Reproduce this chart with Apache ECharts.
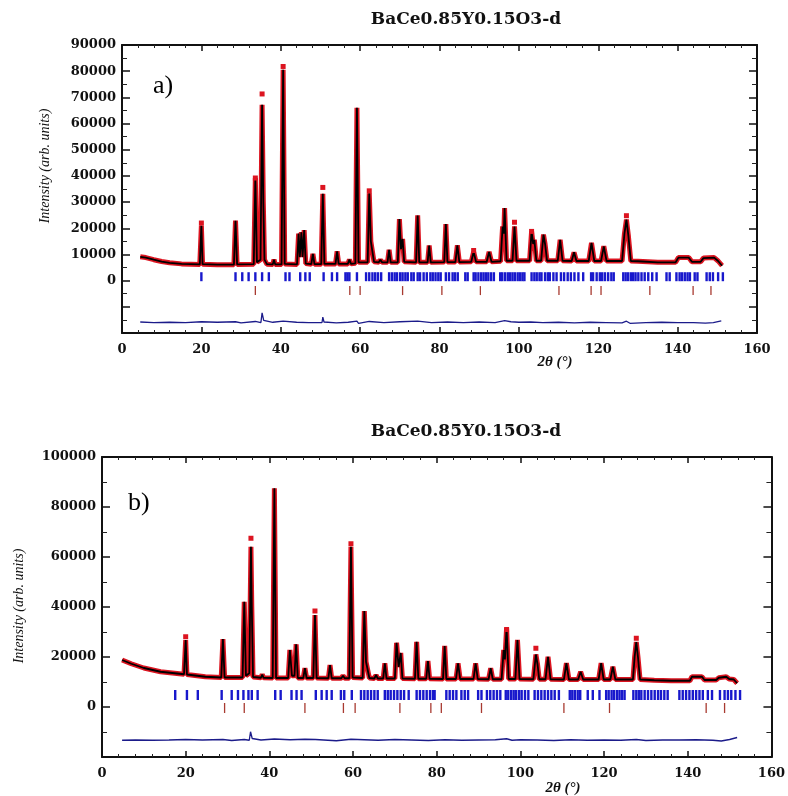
<!DOCTYPE html>
<html><head><meta charset="utf-8">
<script src="https://cdn.jsdelivr.net/npm/echarts@6/dist/echarts.min.js"></script>
<style>html,body{margin:0;padding:0;background:#fff}#c{width:788px;height:796px}</style>
</head><body><div id="c"></div>
<script>
// ---------- Panel a data ----------
const profileA = [[4.6,9100],[6,8800],[8,8000],[10,7300],[12,6800],[15,6400],[19.6,6200],
[19.7,6300],[20.0,21000],[20.3,6300],[24,6100],[28.2,6100],[28.6,22900],[29.0,6200],
[33.2,6300],[33.6,39200],[34.0,7000],[34.9,8000],[35.3,67200],[35.6,30000],[35.9,8000],[36.5,6300],
[38.0,6200],[38.3,8000],[38.6,6200],[40.2,6200],[40.6,80500],[41.0,6400],
[44.1,6200],[44.5,18000],[44.8,9000],[45.2,18500],[45.5,9000],[45.9,19300],[46.3,6500],
[47.7,6300],[48.1,10200],[48.5,6300],[50.2,6300],[50.6,33200],[51.0,6400],
[53.8,6400],[54.2,11200],[54.6,6400],[56.9,6400],[57.3,8000],[57.7,6400],
[58.8,6600],[59.2,66000],[59.6,7000],[61.9,7000],[62.3,33400],[62.7,15000],[63.1,15000],[63.5,7200],
[64.7,7000],[65.1,8000],[65.5,7000],[66.9,7000],[67.3,11800],[67.7,7000],
[69.5,7000],[69.9,23500],[70.3,12000],[70.7,15900],[71.1,7200],[74.1,7000],[74.5,24900],[74.9,7000],
[77.0,7000],[77.4,13400],[77.8,7000],[81.2,7100],[81.6,21600],[82.0,7100],
[84.0,7100],[84.5,13500],[85.0,7100],[88.0,7200],[88.6,11000],[89.2,7200],
[91.9,7200],[92.5,11000],[93.1,7200],[95.4,7400],[95.9,20700],[96.2,18000],[96.4,27700],[96.9,7600],
[98.4,7600],[98.9,20700],[99.4,7600],[102.7,7600],[103.2,18800],[103.6,14000],[103.9,15600],[104.4,7600],
[105.6,7600],[106.2,17600],[106.6,14000],[107.1,7600],[109.8,7600],[110.4,15600],[111.0,7600],
[113.3,7500],[113.9,10800],[114.5,7500],[117.6,7500],[118.3,14400],[119.0,7500],
[120.7,7500],[121.4,13100],[122.1,7500],[126.0,7500],[126.6,18000],[127.1,23300],[127.6,17000],[128.2,7500],
[130,7400],[135,7000],[139.5,7000],[140.2,8800],[142.8,8800],[143.6,7200],[145.8,7200],[146.5,8600],[149.2,8800],[150.2,7500],[151.2,5700]];
const obsPeaksA = [[20.0,22000],[33.6,39200],[35.3,71300],[40.6,81800],[50.6,35600],[62.3,34300],[88.6,11500],[98.9,22300],[103.2,18800],[127.1,24800]];
const diffA = [[4.6,-15800],[8,-16000],[12,-15900],[16,-16000],[20,-15700],[20.3,-16200],[24,-15900],[28.6,-15700],[30,-16100],[33.6,-15600],[35.0,-16000],[35.3,-12300],[35.7,-15200],[38,-15900],[40.6,-15500],[41,-16200],[44,-15900],[47,-16000],[50.4,-16000],[50.6,-13900],[50.9,-15800],[54,-16100],[57,-15900],[59.2,-15500],[59.6,-16300],[62.3,-15600],[66,-16000],[70,-15700],[74.5,-15500],[78,-16000],[82,-15800],[86,-16000],[90,-15800],[94,-16000],[96.4,-15300],[98,-15700],[100,-15900],[103,-15800],[106,-16000],[110,-15900],[114,-16100],[118,-15900],[122,-16000],[126,-16100],[127.1,-15500],[128,-16300],[132,-16000],[136,-15900],[140,-16000],[144,-16000],[147,-16200],[149,-16000],[151,-15400]];
const braggA1 = [20.0,28.6,30.3,31.9,33.6,35.3,37.0,41.2,42.2,44.9,46.2,47.3,50.8,52.9,54.2,56.3,56.8,57.3,59.2,61.5,62.3,63.1,63.8,64.5,65.3,67.3,68.0,68.7,69.3,70.1,70.7,71.4,72.0,72.9,73.5,74.5,75.1,76.0,76.8,77.7,78.3,79.0,79.7,80.3,81.6,82.4,83.3,83.9,84.6,86.5,87.1,88.6,89.1,89.8,90.5,91.1,91.7,92.3,93.0,93.7,95.3,95.8,96.5,97.2,97.8,98.4,99.0,99.7,100.3,100.9,101.4,103.2,103.9,104.5,105.2,105.7,106.6,107.3,107.8,108.7,109.5,110.6,111.4,112.3,113.1,114.0,115.0,116.2,118.2,118.7,119.6,120.4,121.0,121.7,122.5,123.3,123.9,126.3,126.9,127.5,128.2,128.8,129.4,130.1,130.9,131.7,132.6,133.6,134.7,137.2,138.0,139.7,140.5,141.1,141.8,142.5,143.1,144.3,145.0,147.3,148.1,148.9,150.2,151.4];
const braggA2 = [33.6,57.4,60.0,70.7,80.6,90.3,110.1,118.2,120.7,133.0,143.9,148.4];

// ---------- Panel b data ----------
const profileB = [[4.8,18800],[7,17300],[10,15600],[14,14100],[19.6,13100],
[19.7,13100],[20.0,26800],[20.3,13000],[24.7,12100],[28.5,11800],[28.9,27200],[29.3,11800],[31,11800],
[33.6,11800],[34.0,42100],[34.4,12500],[35.2,13500],[35.6,64100],[35.8,40000],[36.1,12000],
[38.0,11700],[38.3,13000],[38.6,11700],[40.8,11600],[41.2,87500],[41.6,11600],
[44.5,11600],[44.9,22800],[45.4,12500],[46.0,12500],[46.4,25100],[46.8,11600],
[48.1,11600],[48.5,15500],[48.9,11600],[50.5,11600],[50.9,36800],[51.3,11600],
[54.1,11500],[54.5,16800],[54.9,11500],[57.2,11500],[57.6,12500],[58.0,11500],
[59.1,11500],[59.5,64100],[59.9,11800],[62.3,11600],[62.7,38400],[63.1,18100],[63.5,18100],[63.9,11600],
[65.1,11400],[65.5,12800],[65.9,11400],[67.2,11400],[67.6,17500],[68.0,11400],
[70.0,11400],[70.4,25700],[70.9,16000],[71.4,21600],[71.8,11400],[74.8,11300],[75.2,26100],[75.6,11300],
[77.5,11300],[77.9,18400],[78.3,11300],[81.5,11200],[81.9,24400],[82.3,11200],
[84.6,11200],[85.1,17500],[85.6,11200],[88.8,11200],[89.3,17500],[89.8,11200],
[92.4,11100],[92.9,15500],[93.4,11100],[95.5,11100],[96.0,22800],[96.3,19000],[96.7,31500],[97.2,11200],
[98.8,11200],[99.3,26800],[99.8,11200],[103.1,11100],[103.7,21000],[104.1,17000],[104.5,11100],
[106.0,11100],[106.6,20100],[107.2,11100],[110.4,11000],[111.0,17500],[111.6,11000],
[113.8,11000],[114.4,14100],[115.0,11000],[118.7,11000],[119.3,17500],[119.9,11000],
[121.5,11000],[122.1,16100],[122.7,11000],[126.9,11000],[127.3,20000],[127.7,26000],[128.1,20000],[128.6,11000],
[132,10700],[136,10500],[140.5,10500],[141.0,12100],[143.4,12100],[144.0,10800],[146.8,10800],[147.4,11700],[149.2,12100],[149.9,11200],[151.0,11000],[151.8,9500]];
const obsPeaksB = [[20.0,28100],[35.6,67500],[50.9,38400],[59.5,65300],[96.7,31000],[103.7,23500],[127.7,27500]];
const diffB = [[4.8,-13300],[8,-13200],[12,-13300],[16,-13200],[20,-13000],[20.4,-13500],[24,-13200],[28.9,-13000],[31,-13400],[34,-13000],[35.2,-13300],[35.5,-9900],[35.9,-12600],[38,-13200],[41.2,-12800],[41.6,-13600],[45,-13100],[48.5,-12900],[51,-13000],[54,-13300],[56,-13500],[59.5,-12900],[62.7,-13100],[66,-13300],[70,-13000],[74,-13200],[78,-13400],[82,-13100],[86,-13300],[90,-13200],[94,-13100],[96.7,-12700],[98,-13300],[100,-13100],[104,-13200],[108,-13400],[112,-13100],[116,-13300],[120,-13200],[124,-13300],[127.7,-13000],[130,-13400],[134,-13200],[138,-13200],[142,-13100],[146,-13300],[148,-13600],[150,-13000],[151.8,-12200]];
const braggB1 = [17.5,20.3,22.9,28.6,31.0,32.5,33.8,35.0,35.8,37.2,41.4,42.7,45.3,46.5,47.7,51.1,52.5,53.7,54.9,57.1,57.9,59.7,61.9,62.7,63.5,64.3,65.1,65.9,67.6,68.3,69.0,69.8,70.6,71.4,72.2,73.3,75.2,76.0,76.8,77.6,78.4,79.1,79.5,82.3,83.1,83.9,84.7,85.9,86.7,87.5,89.9,90.7,92.0,92.8,93.6,94.4,95.2,96.5,97.1,97.8,98.4,99.0,99.7,100.3,101.1,101.9,103.4,104.2,105.0,105.8,106.6,107.4,108.2,109.2,111.8,112.4,113.0,113.7,114.3,116.1,117.3,118.9,120.5,121.1,121.8,122.4,123.1,123.7,124.3,124.9,127.0,127.7,128.3,128.9,129.7,130.5,131.3,132.1,132.9,133.6,134.4,135.2,138.0,138.8,139.6,140.4,141.2,142.0,142.8,143.6,144.8,145.8,147.7,148.8,149.6,150.4,151.4,152.5];
const braggB2 = [29.3,34.0,48.5,57.7,60.5,71.2,78.6,81.1,90.7,110.4,121.3,144.4,148.8];

const titleText = 'BaCe0.85Y0.15O3-d';
const yName = 'Intensity (arb. units)';
const xName = '2\u03B8 (\u00B0)';

// ---------- styling ----------
const SERIF_B = 'DejaVu Serif';
const RED = '#dc1420', BLUE = '#1818cc', BRICK = '#a83a30', DIFF = '#1b1b8a';
const ROW = { a1: 1500, a2: -3800, b1: 4800, b2: -400 };

function xAx(grid, pos, showLabel) {
  return {
    type: 'value', gridIndex: grid, position: pos, min: 0, max: 160, interval: 20,
    axisLine: { show: true, onZero: false, lineStyle: { color: '#111', width: 2 } },
    axisTick: { show: true, inside: true, length: 6, lineStyle: { color: '#111', width: 1.5 } },
    minorTick: { show: true, splitNumber: 5, length: 3, lineStyle: { color: '#222' } },
    splitLine: { show: false },
    axisLabel: { show: showLabel, margin: 10, color: '#111', fontFamily: SERIF_B, fontWeight: 'bold', fontSize: 13 }
  };
}
function yAx(grid, pos, max, interval, showLabel) {
  return {
    type: 'value', gridIndex: grid, position: pos, min: -20000, max: max, interval: interval,
    axisLine: { show: true, onZero: false, lineStyle: { color: '#111', width: 2 } },
    axisTick: { show: true, inside: true, length: 8, lineStyle: { color: '#111', width: 1.5 } },
    minorTick: { show: true, splitNumber: 2, length: 5, lineStyle: { color: '#222' } },
    splitLine: { show: false },
    axisLabel: { show: showLabel, margin: 6, color: '#111', fontFamily: SERIF_B, fontWeight: 'bold', fontSize: 13,
      formatter: v => (v < 0 ? '' : String(v)) }
  };
}
function panelSeries(xi, yi, profile, obsPeaks, diff, b1, b2, r1, r2, tickH) {
  return [
    { type: 'line', xAxisIndex: xi, yAxisIndex: yi, data: profile, showSymbol: false, lineStyle: { color: RED, width: 5 }, z: 2, animation: false },
    { type: 'line', xAxisIndex: xi, yAxisIndex: yi, data: profile, showSymbol: false, lineStyle: { color: '#000', width: 1.8 }, z: 3, animation: false },
    { type: 'scatter', xAxisIndex: xi, yAxisIndex: yi, data: obsPeaks, symbol: 'rect', symbolSize: 5, itemStyle: { color: RED, opacity: 1 }, z: 4, animation: false },
    { type: 'line', xAxisIndex: xi, yAxisIndex: yi, data: diff, showSymbol: false, lineStyle: { color: DIFF, width: 1.3 }, z: 3, animation: false },
    { type: 'scatter', xAxisIndex: xi, yAxisIndex: yi, data: b1.map(p => [p, r1]), symbol: 'rect', symbolSize: [2.4, tickH], itemStyle: { color: BLUE, opacity: 1 }, z: 3, animation: false },
    { type: 'scatter', xAxisIndex: xi, yAxisIndex: yi, data: b2.map(p => [p, r2]), symbol: 'rect', symbolSize: [1.3, tickH], itemStyle: { color: BRICK, opacity: 1 }, z: 3, animation: false }
  ];
}

const chart = echarts.init(document.getElementById('c'), null, { renderer: 'canvas' });
chart.setOption({
  backgroundColor: '#fff',
  animation: false,
  grid: [
    { left: 122, top: 45, width: 635, height: 288 },
    { left: 102, top: 457, width: 670, height: 300 }
  ],
  xAxis: [xAx(0, 'bottom', true), xAx(0, 'top', false), xAx(1, 'bottom', true), xAx(1, 'top', false)],
  yAxis: [yAx(0, 'left', 90000, 10000, true), yAx(0, 'right', 90000, 10000, false),
          yAx(1, 'left', 100000, 20000, true), yAx(1, 'right', 100000, 20000, false)],
  series: [].concat(
    panelSeries(0, 0, profileA, obsPeaksA, diffA, braggA1, braggA2, ROW.a1, ROW.a2, 9),
    panelSeries(2, 2, profileB, obsPeaksB, diffB, braggB1, braggB2, ROW.b1, ROW.b2, 10)
  ),
  graphic: [
    { type: 'text', x: 466, y: 20, style: { text: titleText, fill: '#111', font: 'bold 17px "DejaVu Serif"', textAlign: 'center', textVerticalAlign: 'middle' } },
    { type: 'text', x: 466, y: 432, style: { text: titleText, fill: '#111', font: 'bold 17px "DejaVu Serif"', textAlign: 'center', textVerticalAlign: 'middle' } },
    { type: 'text', x: 153, y: 86, style: { text: 'a)', fill: '#000', font: '26px "Liberation Serif"', textAlign: 'left', textVerticalAlign: 'middle' } },
    { type: 'text', x: 128, y: 503, style: { text: 'b)', fill: '#000', font: '26px "Liberation Serif"', textAlign: 'left', textVerticalAlign: 'middle' } },
    { type: 'text', x: 45, y: 166, rotation: Math.PI / 2, style: { text: yName, fill: '#111', font: 'italic 14px "Liberation Serif"', textAlign: 'center', textVerticalAlign: 'middle' } },
    { type: 'text', x: 19, y: 606, rotation: Math.PI / 2, style: { text: yName, fill: '#111', font: 'italic 14px "Liberation Serif"', textAlign: 'center', textVerticalAlign: 'middle' } },
    { type: 'text', x: 555, y: 362, style: { text: xName, fill: '#111', font: 'italic bold 15px "Liberation Serif"', textAlign: 'center', textVerticalAlign: 'middle' } },
    { type: 'text', x: 563, y: 788, style: { text: xName, fill: '#111', font: 'italic bold 15px "Liberation Serif"', textAlign: 'center', textVerticalAlign: 'middle' } }
  ]
});
</script></body></html>
